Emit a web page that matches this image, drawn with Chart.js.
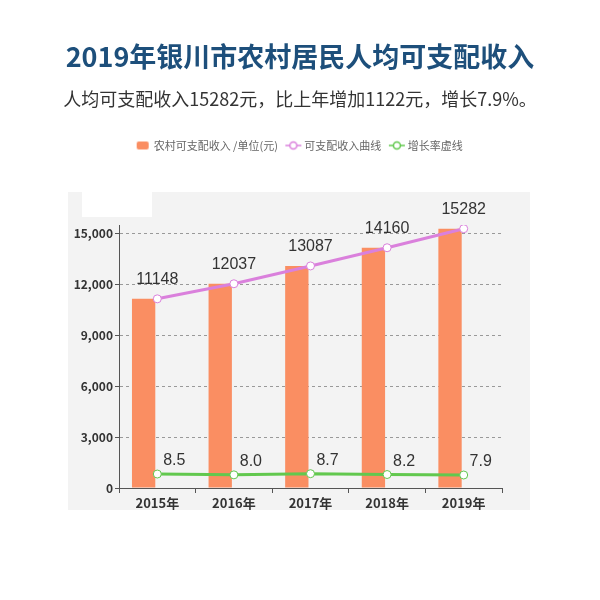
<!DOCTYPE html>
<html>
<head>
<meta charset="utf-8">
<script src="https://cdn.jsdelivr.net/npm/chart.js@4"></script>
<style>
  html, body { margin: 0; padding: 0; background: #fff; }
  #wrap { width: 600px; height: 600px; }
</style>
</head>
<body>
<div id="wrap"><canvas id="incomeChart" width="600" height="600"></canvas></div>
<script>
const years = ['2015年', '2016年', '2017年', '2018年', '2019年'];
const income = [11148, 12037, 13087, 14160, 15282];
const growth = [8.5, 8.0, 8.7, 8.2, 7.9];
const yTicks = [0, 3000, 6000, 9000, 12000, 15000];

const cjk = '"Noto Sans CJK SC", "Noto Sans", sans-serif';

function makeIcon(kind, color) {
  const c = document.createElement('canvas');
  c.width = 18; c.height = 12;
  const g = c.getContext('2d');
  if (kind === 'rect') {
    g.fillStyle = color;
    g.beginPath();
    g.roundRect(3, 2, 12, 8, 2);
    g.fill();
  } else {
    g.strokeStyle = color;
    g.lineWidth = 1.5;
    g.beginPath(); g.moveTo(1, 6); g.lineTo(17, 6); g.stroke();
    g.fillStyle = '#fff';
    g.beginPath(); g.arc(9, 6, 3.5, 0, Math.PI * 2); g.fill(); g.stroke();
  }
  return c;
}

// grey panel behind the plot
const panel = {
  id: 'panel',
  beforeDraw(chart) {
    const { ctx, chartArea: a } = chart;
    ctx.save();
    ctx.fillStyle = '#f3f3f3';
    ctx.fillRect(a.left - 51, a.top - 33, a.right - a.left + 79, a.bottom - a.top + 55);
    ctx.fillStyle = '#ffffff';
    ctx.fillRect(a.left - 37, a.top - 33, 70, 25);
    ctx.restore();
  }
};

// push the plot down below the legend
const legendGap = {
  id: 'legendGap',
  beforeInit(chart) {
    const fit = chart.legend.fit;
    chart.legend.fit = function () {
      fit.call(this);
      this.height += 64;
    };
  }
};

// value labels on the two lines
const valueLabels = {
  id: 'valueLabels',
  afterDatasetsDraw(chart) {
    const ctx = chart.ctx;
    ctx.save();
    ctx.font = '16px "Liberation Sans", Arial, sans-serif';
    ctx.fillStyle = '#333';
    ctx.textAlign = 'center';
    ctx.textBaseline = 'middle';
    chart.getDatasetMeta(2).data.forEach((p, i) => {
      ctx.fillText(String(income[i]), p.x, p.y - 19);
    });
    chart.getDatasetMeta(3).data.forEach((p, i) => {
      ctx.fillText(growth[i].toFixed(1), p.x + 17, p.y - 13);
    });
    ctx.restore();
  }
};

const ctx = document.getElementById('incomeChart').getContext('2d');
new Chart(ctx, {
  data: {
    labels: years,
    datasets: [
      {
        type: 'bar',
        label: '农村可支配收入 /单位(元)',
        data: income,
        backgroundColor: 'rgb(250, 142, 98)',
        categoryPercentage: 0.714,
        barPercentage: 0.853,
        order: 2
      },
      {
        type: 'bar',
        label: 'spacer',
        data: years.map(() => null),
        backgroundColor: 'rgba(0,0,0,0)',
        categoryPercentage: 0.714,
        barPercentage: 0.853,
        order: 2
      },
      {
        type: 'line',
        label: '可支配收入曲线',
        data: income,
        borderColor: 'rgb(218, 128, 220)',
        borderWidth: 3,
        pointBackgroundColor: '#fff',
        pointBorderColor: 'rgb(218, 128, 220)',
        pointBorderWidth: 1,
        pointRadius: 4,
        tension: 0,
        order: 0
      },
      {
        type: 'line',
        label: '增长率虚线',
        data: growth,
        yAxisID: 'y2',
        borderColor: 'rgb(98, 200, 78)',
        borderWidth: 3,
        pointBackgroundColor: '#fff',
        pointBorderColor: 'rgb(98, 200, 78)',
        pointBorderWidth: 1,
        pointRadius: 4,
        tension: 0,
        order: 0
      }
    ]
  },
  options: {
    responsive: false,
    animation: false,
    layout: { padding: 0 },
    plugins: {
      title: {
        display: true,
        text: '2019年银川市农村居民人均可支配收入',
        color: '#1d4f7b',
        font: { family: cjk, size: 27, weight: 'bold' },
        padding: { top: 41, bottom: 15 }
      },
      subtitle: {
        display: true,
        text: '人均可支配收入15282元，比上年增加1122元，增长7.9%。',
        color: '#333',
        font: { family: cjk, size: 18 },
        padding: { top: 0, bottom: 20 }
      },
      legend: {
        display: true,
        labels: {
          color: '#666',
          font: { family: cjk, size: 11 },
          usePointStyle: true,
          padding: 10,
          generateLabels(chart) {
            const icons = [
              makeIcon('rect', 'rgb(250, 142, 98)'),
              null,
              makeIcon('line', 'rgb(218, 128, 220)'),
              makeIcon('line', 'rgb(98, 200, 78)')
            ];
            return chart.data.datasets.map((ds, i) => ({
              text: ds.label,
              pointStyle: icons[i],
              fontColor: '#666',
              datasetIndex: i,
              hidden: false,
              lineWidth: 0
            })).filter(l => l.datasetIndex !== 1);
          }
        }
      },
      tooltip: { enabled: false }
    },
    scales: {
      x: {
        grid: { display: true, drawOnChartArea: false, drawTicks: true, tickLength: 5, offset: true, color: '#555' },
        border: { color: '#555', width: 1 },
        ticks: { color: '#333', font: { family: cjk, size: 13, weight: 'bold' }, padding: 2 },
        afterFit(scale) { scale.height = 112; }
      },
      y: {
        min: 0,
        max: 15500,
        afterBuildTicks(scale) { scale.ticks = yTicks.map(v => ({ value: v })); },
        ticks: {
          color: '#333',
          font: { family: cjk, size: 12, weight: 'bold' },
          padding: 2,
          callback: v => v.toLocaleString('en-US')
        },
        grid: {
          color: c => c.tick && c.tick.value === 0 ? 'rgba(0,0,0,0)' : '#999',
          tickColor: '#555',
          tickLength: 4,
          tickBorderDash: []
        },
        border: { color: '#555', width: 1, dash: [3, 3] },
        afterFit(scale) { scale.width = 119; }
      },
      y2: {
        display: true,
        position: 'right',
        min: 0,
        max: 160,
        ticks: { display: false },
        grid: { display: false, drawTicks: false },
        border: { display: false },
        afterFit(scale) { scale.width = 98; }
      }
    }
  },
  plugins: [panel, legendGap, valueLabels]
});
</script>
</body>
</html>
